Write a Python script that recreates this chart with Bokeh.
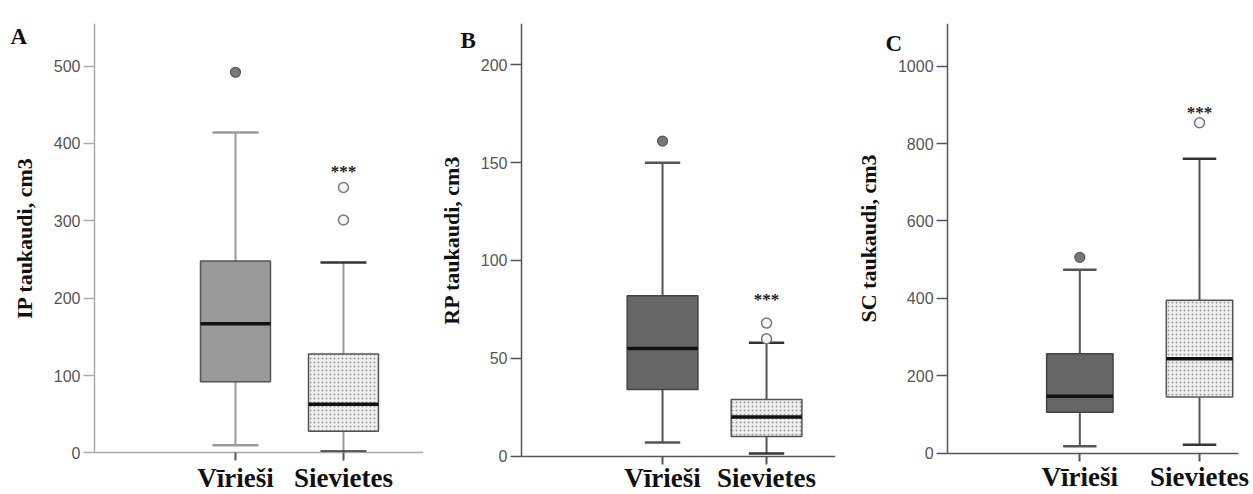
from bokeh.plotting import figure
from bokeh.layouts import row
from bokeh.models import FixedTicker, Range1d, Label
from bokeh.core.properties import value
from bokeh.embed import file_html
from bokeh.resources import INLINE

# ---------------- data ----------------
categories = ["Vīrieši", "Sievietes"]

# Panel A: IP taukaudi
a_low = [10, 2]
a_q1 = [92, 28]
a_med = [167, 63]
a_q3 = [248, 128]
a_high = [414, 246]
a_out = [[492], [343, 301]]
a_star = 364
a_ticks = [0, 100, 200, 300, 400, 500]

# Panel B: RP taukaudi
b_low = [7, 1.3]
b_q1 = [34, 10]
b_med = [55, 20]
b_q3 = [82, 29]
b_high = [150, 58]
b_out = [[161], [68, 60]]
b_star = 80
b_ticks = [0, 50, 100, 150, 200]

# Panel C: SC taukaudi
c_low = [18, 22]
c_q1 = [106, 145]
c_med = [147, 244]
c_q3 = [257, 395]
c_high = [474, 761]
c_out = [[506], [854]]
c_star = 881
c_ticks = [0, 200, 400, 600, 800, 1000]

SERIF = "Liberation Serif"
SANS = "Liberation Sans"


def make_panel(letter, ylabel, low, q1, med, q3, high, outs, star, ticks,
               width, right, top, xr, yr, y_axis_at, x_axis_end, box_w, cap_w,
               male_fill, male_line, whisk_col, axis_col, letter_x, letter_y, xstandoff):
    p = figure(width=width, height=494, output_backend="svg", toolbar_location=None,
               x_range=Range1d(*xr), y_range=Range1d(*yr),
               min_border_left=0, min_border_right=right,
               min_border_top=top, min_border_bottom=0)
    p.outline_line_color = None
    p.grid.grid_line_color = None
    p.background_fill_color = "white"

    xs = [i + 1 for i in range(len(categories))]

    # whiskers
    p.segment(x0=xs, y0=q3, x1=xs, y1=high, line_color=whisk_col, line_width=2)
    p.segment(x0=xs, y0=low, x1=xs, y1=q1, line_color=whisk_col, line_width=2)
    # caps
    p.segment(x0=[x - cap_w / 2 for x in xs], y0=high, x1=[x + cap_w / 2 for x in xs], y1=high,
              line_color=[whisk_col, "#333333"], line_width=2.5)
    p.segment(x0=[x - cap_w / 2 for x in xs], y0=low, x1=[x + cap_w / 2 for x in xs], y1=low,
              line_color=[whisk_col, "#333333"], line_width=2.5)

    # boxes
    p.vbar(x=[xs[0]], bottom=[q1[0]], top=[q3[0]], width=box_w,
           fill_color=male_fill, line_color=male_line, line_width=1.5)
    p.vbar(x=[xs[1]], bottom=[q1[1]], top=[q3[1]], width=box_w,
           fill_color="#f0f0f0", line_color="#555555", line_width=1.5,
           hatch_pattern="dot", hatch_color="#9a9a9a", hatch_scale=4, hatch_weight=1)
    # medians
    p.segment(x0=[x - box_w / 2 for x in xs], y0=med, x1=[x + box_w / 2 for x in xs], y1=med,
              line_color="#111111", line_width=3.5)

    # outliers
    p.scatter(x=[xs[0]] * len(outs[0]), y=outs[0], size=10,
              fill_color="#777777", line_color="#555555", line_width=1.2)
    p.scatter(x=[xs[1]] * len(outs[1]), y=outs[1], size=10,
              fill_color="#f4f4f4", line_color="#777777", line_width=1.5)

    # significance stars
    p.text(x=[xs[1]], y=[star], text=["***"], text_align="center", text_baseline="middle",
           text_font=value(SERIF), text_font_style="bold", text_font_size="17px",
           text_color="#222222")

    # panel letter
    p.add_layout(Label(x=letter_x, y=letter_y, text=letter,
                       text_font=SERIF, text_font_style="bold", text_font_size="23px",
                       text_color="#111111", text_baseline="alphabetic"))

    # y axis, fixed at its data position inside the figure
    ya = p.yaxis[0]
    ya.fixed_location = y_axis_at
    ya.bounds = (0, yr[1])
    ya.ticker = FixedTicker(ticks=ticks)
    ya.minor_tick_line_color = None
    ya.major_tick_in = 0
    ya.major_tick_out = 11
    ya.major_label_standoff = 3
    ya.major_label_text_font = SANS
    ya.major_label_text_font_size = "16px"
    ya.major_label_text_color = "#555555"
    ya.axis_line_color = axis_col
    ya.major_tick_line_color = axis_col
    ya.axis_line_width = 1.5
    ya.major_tick_line_width = 1.5
    ya.axis_label = ylabel
    ya.axis_label_text_font = SERIF
    ya.axis_label_text_font_style = "bold"
    ya.axis_label_text_font_size = "22px"
    ya.axis_label_text_color = "#111111"
    ya.axis_label_standoff = 14

    # x axis, fixed at y = 0
    xa = p.xaxis[0]
    xa.fixed_location = 0
    xa.bounds = (y_axis_at, x_axis_end)
    xa.ticker = FixedTicker(ticks=xs)
    xa.major_label_overrides = {x: c for x, c in zip(xs, categories)}
    xa.minor_tick_line_color = None
    xa.major_tick_in = 0
    xa.major_tick_out = 8
    xa.major_label_standoff = xstandoff
    xa.major_label_text_font = SERIF
    xa.major_label_text_font_style = "bold"
    xa.major_label_text_font_size = "27px"
    xa.major_label_text_color = "#111111"
    xa.axis_line_color = axis_col
    xa.major_tick_line_color = "#555555"
    xa.axis_line_width = 1.5
    xa.major_tick_line_width = 2
    return p


pA = make_panel("A", "IP taukaudi, cm3", a_low, a_q1, a_med, a_q3, a_high, a_out, a_star, a_ticks,
                width=430, right=7, top=18, xr=(-1.176, 2.741), yr=(-53.7, 555),
                y_axis_at=-0.3056, x_axis_end=2.741, box_w=0.648, cap_w=0.426,
                male_fill="#999999", male_line="#555555",
                whisk_col="#999999", axis_col="#aaaaaa", letter_x=-1.083, letter_y=538,
                xstandoff=2)
pB = make_panel("B", "RP taukaudi, cm3", b_low, b_q1, b_med, b_q3, b_high, b_out, b_star, b_ticks,
                width=420, right=15, top=15, xr=(-1.231, 2.663), yr=(-19.6, 221.1),
                y_axis_at=-0.356, x_axis_end=2.663, box_w=0.68, cap_w=0.34,
                male_fill="#666666", male_line="#444444",
                whisk_col="#555555", axis_col="#555555", letter_x=-0.942, letter_y=212.5,
                xstandoff=-1)
pC = make_panel("C", "SC taukaudi, cm3", c_low, c_q1, c_med, c_q3, c_high, c_out, c_star, c_ticks,
                width=400, right=0, top=23, xr=(-0.916, 2.426), yr=(-106.7, 1110.3),
                y_axis_at=-0.105, x_axis_end=2.326, box_w=0.555, cap_w=0.28,
                male_fill="#666666", male_line="#444444",
                whisk_col="#555555", axis_col="#555555", letter_x=-0.623, letter_y=1058,
                xstandoff=1)

layout = row(pA, pB, pC)
open("out.html", "w").write(file_html(layout, INLINE))
